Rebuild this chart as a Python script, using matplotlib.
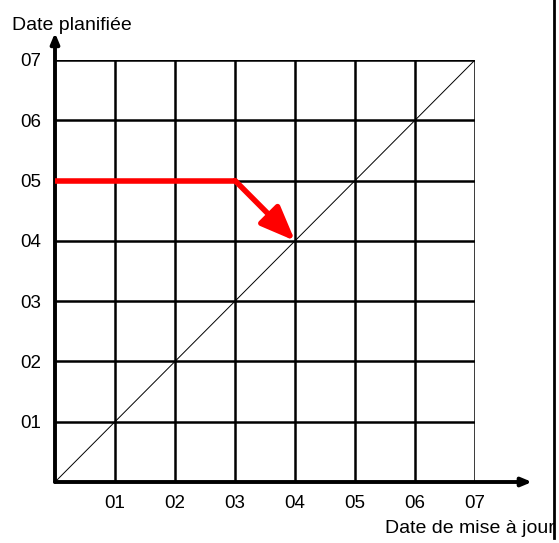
import matplotlib.pyplot as plt

plt.rcParams['font.family'] = ['Liberation Sans', 'DejaVu Sans']

# tick labels for both axes
ticks = [1, 2, 3, 4, 5, 6, 7]
tick_labels = ['01', '02', '03', '04', '05', '06', '07']
# red path: planned date 05 kept until update 03, then moved to 04
path_x = [0, 3, 4]
path_y = [5, 5, 4]
# diagonal x = y
diag = [0, 7]

fig = plt.figure(figsize=(5.59, 5.43), dpi=100)
ax = fig.add_axes([55 / 559, 61 / 543, 420 / 559, 422 / 543])
ax.set_xlim(0, 7)
ax.set_ylim(0, 7)

for t in ticks:
    ax.plot([t, t], [0, 7], color='black', lw=1.8, solid_capstyle='projecting', zorder=2)
    ax.plot([0, 7], [t, t], color='black', lw=1.8, solid_capstyle='projecting', zorder=2)

ax.plot(diag, diag, color='black', lw=0.7, zorder=2)

# red path with arrow head
ax.plot(path_x[:2], path_y[:2], color='red', lw=4, solid_capstyle='butt', zorder=4)
ax.annotate('', xy=(path_x[2], path_y[2]), xytext=(path_x[1], path_y[1]),
            arrowprops=dict(arrowstyle='-|>,head_length=2.1,head_width=0.85',
                            color='red', lw=4, shrinkA=0, shrinkB=0),
            zorder=4)

# axes with arrows
for s in ax.spines.values():
    s.set_visible(False)
ax.annotate('', xy=(7.95, 0), xytext=(0, 0), annotation_clip=False,
            arrowprops=dict(arrowstyle='-|>,head_length=0.6,head_width=0.25',
                            color='black', lw=2.8, shrinkA=0, shrinkB=0))
ax.annotate('', xy=(0, 7.45), xytext=(0, 0), annotation_clip=False,
            arrowprops=dict(arrowstyle='-|>,head_length=0.6,head_width=0.25',
                            color='black', lw=2.8, shrinkA=0, shrinkB=0))

ax.set_xticks(ticks)
ax.set_xticklabels(tick_labels)
ax.set_yticks(ticks)
ax.set_yticklabels(tick_labels)
ax.tick_params(length=0, labelsize=13.5, pad=9)
ax.tick_params(axis='y', pad=10)

fig.text(12 / 559, 1 - 30 / 543, 'Date planifiée', fontsize=14, ha='left', va='baseline')
fig.text(385 / 559, 1 - 533 / 543, 'Date de mise à jour', fontsize=14, ha='left', va='baseline')

# frame line on the right, hides what is past it
fig.patches.append(plt.Rectangle((555 / 559, 0), 4 / 559, 1, transform=fig.transFigure,
                                 facecolor='white', edgecolor='none', zorder=10))
fig.add_artist(plt.Line2D([554 / 559, 554 / 559], [1, 1 - 538 / 543], color='black', lw=2,
                          transform=fig.transFigure, zorder=11))

fig.savefig('out.png', dpi=100)
